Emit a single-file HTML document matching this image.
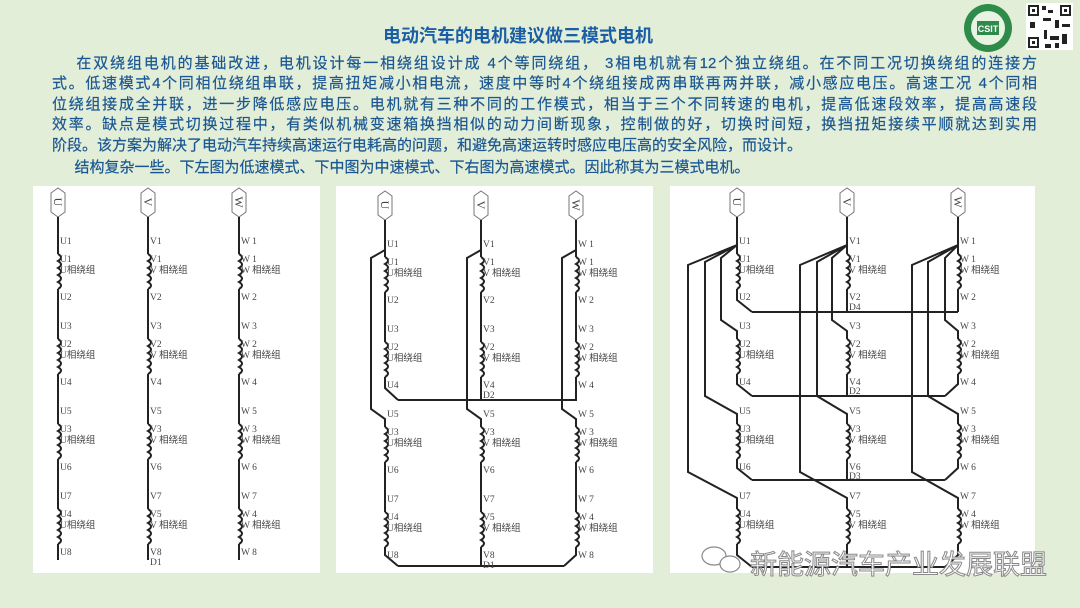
<!DOCTYPE html>
<html><head><meta charset="utf-8">
<style>
html,body{margin:0;padding:0;}
body{width:1080px;height:608px;background:#e3eed8;position:relative;overflow:hidden;font-family:"Liberation Sans","Noto Sans CJK SC",sans-serif;}
.title{position:absolute;left:0;width:1036px;top:22px;text-align:center;font-size:18px;font-weight:bold;color:#1b5ea6;font-family:"Liberation Sans","Noto Sans CJK SC",sans-serif;}
.txt{position:absolute;left:52px;width:985px;top:54px;color:#1a5792;font-size:15px;line-height:20.4px;font-family:"Liberation Sans","Noto Sans CJK SC",sans-serif;-webkit-text-stroke:0.2px #1a5792;}
.txt div{white-space:nowrap;}
.j{text-align:justify;text-align-last:justify;white-space:normal!important;}
.panel{position:absolute;background:#fff;top:186px;height:387px;}
svg{position:absolute;left:0;top:0;}
.wm{position:absolute;left:750px;top:543px;font-size:27px;color:#fff;-webkit-text-stroke:1px #888;font-family:"Noto Sans CJK SC",sans-serif;letter-spacing:0px;}
</style></head><body>
<div class="title">电动汽车的电机建议做三模式电机</div>
<div class="txt">
<div class="j">&emsp;&ensp;在双绕组电机的基础改进，电机设计每一相绕组设计成 4个等同绕组， 3相电机就有12个独立绕组。在不同工况切换绕组的连接方</div>
<div class="j">式。低速模式4个同相位绕组串联，提高扭矩减小相电流，速度中等时4个绕组接成两串联再两并联，减小感应电压。高速工况 4个同相</div>
<div class="j">位绕组接成全并联，进一步降低感应电压。电机就有三种不同的工作模式，相当于三个不同转速的电机，提高低速段效率，提高高速段</div>
<div class="j">效率。缺点是模式切换过程中，有类似机械变速箱换挡相似的动力间断现象，控制做的好，切换时间短，换挡扭矩接续平顺就达到实用</div>
<div>阶段。该方案为解决了电动汽车持续高速运行电耗高的问题，和避免高速运转时感应电压高的安全风险，而设计。</div>
<div style="margin-top:2px">&emsp;&ensp;结构复杂一些。下左图为低速模式、下中图为中速模式、下右图为高速模式。因此称其为三模式电机。</div>
</div>
<div class="panel" style="left:33px;width:287px"></div>
<div class="panel" style="left:336px;width:317px"></div>
<div class="panel" style="left:670px;width:365px"></div>

<svg width="1080" height="608" viewBox="0 0 1080 608">
<defs>
<path id="c" d="M0,0 q6,3.5 0,7 q6,3.5 0,7 q6,3.5 0,7 q6,3.5 0,7 q6,3.5 0,7" fill="none" stroke="#222" stroke-width="2"/>
<g id="coils"><use href="#c" y="254"/><use href="#c" y="339"/><use href="#c" y="424"/><use href="#c" y="509"/></g>
<polygon id="hx" points="-7,193 0,188 7,193 7,212 0,217 -7,212" fill="#fff" stroke="#777" stroke-width="1"/>
</defs>
<!-- logo -->
<circle cx="988" cy="28" r="24" fill="#2e8b4a"/><circle cx="988" cy="28" r="17" fill="#e8f3e3"/>
<rect x="977" y="21" width="22" height="14" fill="#2e8b4a"/><text x="988" y="32" font-size="9" fill="#fff" text-anchor="middle" font-family="Liberation Sans" font-weight="bold">CSIT</text>
<rect x="1026" y="3" width="47" height="47" fill="#fff"/>
<g fill="#222"><rect x="1028" y="5" width="11" height="11"/><rect x="1060" y="5" width="11" height="11"/><rect x="1028" y="37" width="11" height="11"/>
<rect x="1042" y="6" width="4" height="4"/><rect x="1048" y="10" width="5" height="3"/><rect x="1043" y="18" width="8" height="3"/><rect x="1030" y="22" width="5" height="6"/><rect x="1055" y="20" width="4" height="8"/><rect x="1062" y="24" width="8" height="3"/><rect x="1044" y="30" width="3" height="9"/><rect x="1050" y="36" width="9" height="4"/><rect x="1062" y="34" width="5" height="10"/><rect x="1045" y="44" width="6" height="4"/><rect x="1055" y="43" width="4" height="5"/></g>
<g fill="#fff"><rect x="1030" y="7" width="7" height="7"/><rect x="1062" y="7" width="7" height="7"/><rect x="1030" y="39" width="7" height="7"/></g>
<g fill="#222"><rect x="1032" y="9" width="3" height="3"/><rect x="1064" y="9" width="3" height="3"/><rect x="1032" y="41" width="3" height="3"/></g>

<g font-family="Liberation Serif,Noto Sans CJK SC,serif" font-size="9.5" fill="#444" stroke="none">
<!-- LEFT -->
<g transform="translate(58,0)"><use href="#hx"/><text transform="translate(-4,202) rotate(90)" text-anchor="middle" font-size="12">U</text>
<path d="M0,217V254 M0,289V339 M0,374V424 M0,459V509 M0,544V560" stroke="#222" stroke-width="2" fill="none"/><use href="#coils"/>
<text x="2" y="244">U1</text><text x="2" y="262">U1</text><text x="2" y="273">U相绕组</text><text x="2" y="300">U2</text><text x="2" y="329">U3</text><text x="2" y="347">U2</text><text x="2" y="358">U相绕组</text><text x="2" y="385">U4</text><text x="2" y="414">U5</text><text x="2" y="432">U3</text><text x="2" y="443">U相绕组</text><text x="2" y="470">U6</text><text x="2" y="499">U7</text><text x="2" y="517">U4</text><text x="2" y="528">U相绕组</text><text x="2" y="555">U8</text></g>
<g transform="translate(148,0)"><use href="#hx"/><text transform="translate(-4,202) rotate(90)" text-anchor="middle" font-size="12">V</text>
<path d="M0,217V254 M0,289V339 M0,374V424 M0,459V509 M0,544V560" stroke="#222" stroke-width="2" fill="none"/><use href="#coils"/>
<text x="2" y="244">V1</text><text x="2" y="262">V1</text><text x="2" y="273">V 相绕组</text><text x="2" y="300">V2</text><text x="2" y="329">V3</text><text x="2" y="347">V2</text><text x="2" y="358">V 相绕组</text><text x="2" y="385">V4</text><text x="2" y="414">V5</text><text x="2" y="432">V3</text><text x="2" y="443">V 相绕组</text><text x="2" y="470">V6</text><text x="2" y="499">V7</text><text x="2" y="517">V5</text><text x="2" y="528">V 相绕组</text><text x="2" y="555">V8</text><text x="2" y="565">D1</text></g>
<g transform="translate(239,0)"><use href="#hx"/><text transform="translate(-4,202) rotate(90)" text-anchor="middle" font-size="12">W</text>
<path d="M0,217V254 M0,289V339 M0,374V424 M0,459V509 M0,544V560" stroke="#222" stroke-width="2" fill="none"/><use href="#coils"/>
<text x="2" y="244">W 1</text><text x="2" y="262">W 1</text><text x="2" y="273">W 相绕组</text><text x="2" y="300">W 2</text><text x="2" y="329">W 3</text><text x="2" y="347">W 2</text><text x="2" y="358">W 相绕组</text><text x="2" y="385">W 4</text><text x="2" y="414">W 5</text><text x="2" y="432">W 3</text><text x="2" y="443">W 相绕组</text><text x="2" y="470">W 6</text><text x="2" y="499">W 7</text><text x="2" y="517">W 4</text><text x="2" y="528">W 相绕组</text><text x="2" y="555">W 8</text></g>

<!-- MIDDLE -->
<path d="M398,400H577 M398,566H564" stroke="#222" stroke-width="2" fill="none"/>
<g transform="translate(385,3)"><use href="#hx"/><text transform="translate(-4,202) rotate(90)" text-anchor="middle" font-size="12">U</text>
<path d="M0,217V254 M0,289V339 M0,374V385 L13,397 M0,247 L-14,255 V406 L0,416 V424 M0,459V509 M0,544V552 L13,563" stroke="#222" stroke-width="2" fill="none"/><use href="#coils"/>
<text x="2" y="244">U1</text><text x="2" y="262">U1</text><text x="2" y="273">U相绕组</text><text x="2" y="300">U2</text><text x="2" y="329">U3</text><text x="2" y="347">U2</text><text x="2" y="358">U相绕组</text><text x="2" y="385">U4</text><text x="2" y="414">U5</text><text x="2" y="432">U3</text><text x="2" y="443">U相绕组</text><text x="2" y="470">U6</text><text x="2" y="499">U7</text><text x="2" y="517">U4</text><text x="2" y="528">U相绕组</text><text x="2" y="555">U8</text></g>
<g transform="translate(481,3)"><use href="#hx"/><text transform="translate(-4,202) rotate(90)" text-anchor="middle" font-size="12">V</text>
<path d="M0,217V254 M0,289V339 M0,374V397 M0,247 L-14,255 V406 L0,416 V424 M0,459V509 M0,544V563" stroke="#222" stroke-width="2" fill="none"/><use href="#coils"/>
<text x="2" y="244">V1</text><text x="2" y="262">V1</text><text x="2" y="273">V 相绕组</text><text x="2" y="300">V2</text><text x="2" y="329">V3</text><text x="2" y="347">V2</text><text x="2" y="358">V 相绕组</text><text x="2" y="385">V4</text><text x="2" y="395">D2</text><text x="2" y="414">V5</text><text x="2" y="432">V3</text><text x="2" y="443">V 相绕组</text><text x="2" y="470">V6</text><text x="2" y="499">V7</text><text x="2" y="517">V5</text><text x="2" y="528">V 相绕组</text><text x="2" y="555">V8</text><text x="2" y="565">D1</text></g>
<g transform="translate(576,3)"><use href="#hx"/><text transform="translate(-4,202) rotate(90)" text-anchor="middle" font-size="12">W</text>
<path d="M0,217V254 M0,289V339 M0,374V397 M0,247 L-14,255 V406 L0,416 V424 M0,459V509 M0,544V552 L-12,563" stroke="#222" stroke-width="2" fill="none"/><use href="#coils"/>
<text x="2" y="244">W 1</text><text x="2" y="262">W 1</text><text x="2" y="273">W 相绕组</text><text x="2" y="300">W 2</text><text x="2" y="329">W 3</text><text x="2" y="347">W 2</text><text x="2" y="358">W 相绕组</text><text x="2" y="385">W 4</text><text x="2" y="414">W 5</text><text x="2" y="432">W 3</text><text x="2" y="443">W 相绕组</text><text x="2" y="470">W 6</text><text x="2" y="499">W 7</text><text x="2" y="517">W 4</text><text x="2" y="528">W 相绕组</text><text x="2" y="555">W 8</text></g>

<!-- RIGHT -->
<path d="M752,312H958 M752,396H945 M752,480H945 M752,567H945" stroke="#222" stroke-width="2" fill="none"/>
<g transform="translate(737,0)"><use href="#hx"/><text transform="translate(-4,202) rotate(90)" text-anchor="middle" font-size="12">U</text>
<path d="M0,217V254 M0,289V300 L15,312 M0,245 L-16,258 V320 L0,331 V339 M0,374V384 L15,396 M0,245 L-32,262 V396 L0,414 V424 M0,459V468 L15,480 M0,245 L-49,265 V472 L0,498 V509 M0,544V555 L15,567" stroke="#222" stroke-width="2" fill="none"/><use href="#coils"/>
<text x="2" y="244">U1</text><text x="2" y="262">U1</text><text x="2" y="273">U相绕组</text><text x="2" y="300">U2</text><text x="2" y="329">U3</text><text x="2" y="347">U2</text><text x="2" y="358">U相绕组</text><text x="2" y="385">U4</text><text x="2" y="414">U5</text><text x="2" y="432">U3</text><text x="2" y="443">U相绕组</text><text x="2" y="470">U6</text><text x="2" y="499">U7</text><text x="2" y="517">U4</text><text x="2" y="528">U相绕组</text></g>
<g transform="translate(847,0)"><use href="#hx"/><text transform="translate(-4,202) rotate(90)" text-anchor="middle" font-size="12">V</text>
<path d="M0,217V254 M0,289V312 M0,245 L-15,258 V320 L0,331 V339 M0,374V396 M0,245 L-30,262 V396 L0,414 V424 M0,459V480 M0,245 L-47,265 V472 L0,498 V509 M0,544V567" stroke="#222" stroke-width="2" fill="none"/><use href="#coils"/>
<text x="2" y="244">V1</text><text x="2" y="262">V1</text><text x="2" y="273">V 相绕组</text><text x="2" y="300">V2</text><text x="2" y="310">D4</text><text x="2" y="329">V3</text><text x="2" y="347">V2</text><text x="2" y="358">V 相绕组</text><text x="2" y="385">V4</text><text x="2" y="394">D2</text><text x="2" y="414">V5</text><text x="2" y="432">V3</text><text x="2" y="443">V 相绕组</text><text x="2" y="470">V6</text><text x="2" y="479">D3</text><text x="2" y="499">V7</text><text x="2" y="517">V5</text><text x="2" y="528">V 相绕组</text></g>
<g transform="translate(958,0)"><use href="#hx"/><text transform="translate(-4,202) rotate(90)" text-anchor="middle" font-size="12">W</text>
<path d="M0,217V254 M0,289V312 M0,245 L-13,258 V320 L0,331 V339 M0,374V384 L-13,396 M0,245 L-30,262 V396 L0,414 V424 M0,459V468 L-13,480 M0,245 L-46,265 V472 L0,498 V509 M0,544V555 L-13,567" stroke="#222" stroke-width="2" fill="none"/><use href="#coils"/>
<text x="2" y="244">W 1</text><text x="2" y="262">W 1</text><text x="2" y="273">W 相绕组</text><text x="2" y="300">W 2</text><text x="2" y="329">W 3</text><text x="2" y="347">W 2</text><text x="2" y="358">W 相绕组</text><text x="2" y="385">W 4</text><text x="2" y="414">W 5</text><text x="2" y="432">W 3</text><text x="2" y="443">W 相绕组</text><text x="2" y="470">W 6</text><text x="2" y="499">W 7</text><text x="2" y="517">W 4</text><text x="2" y="528">W 相绕组</text></g>
</g>
<!-- wechat icon -->
<g fill="#fff" stroke="#888" stroke-width="1.2"><ellipse cx="714" cy="556" rx="12" ry="9"/><ellipse cx="730" cy="564" rx="10" ry="8"/></g>
</svg>
<div class="wm">新能源汽车产业发展联盟</div>
</body></html>
